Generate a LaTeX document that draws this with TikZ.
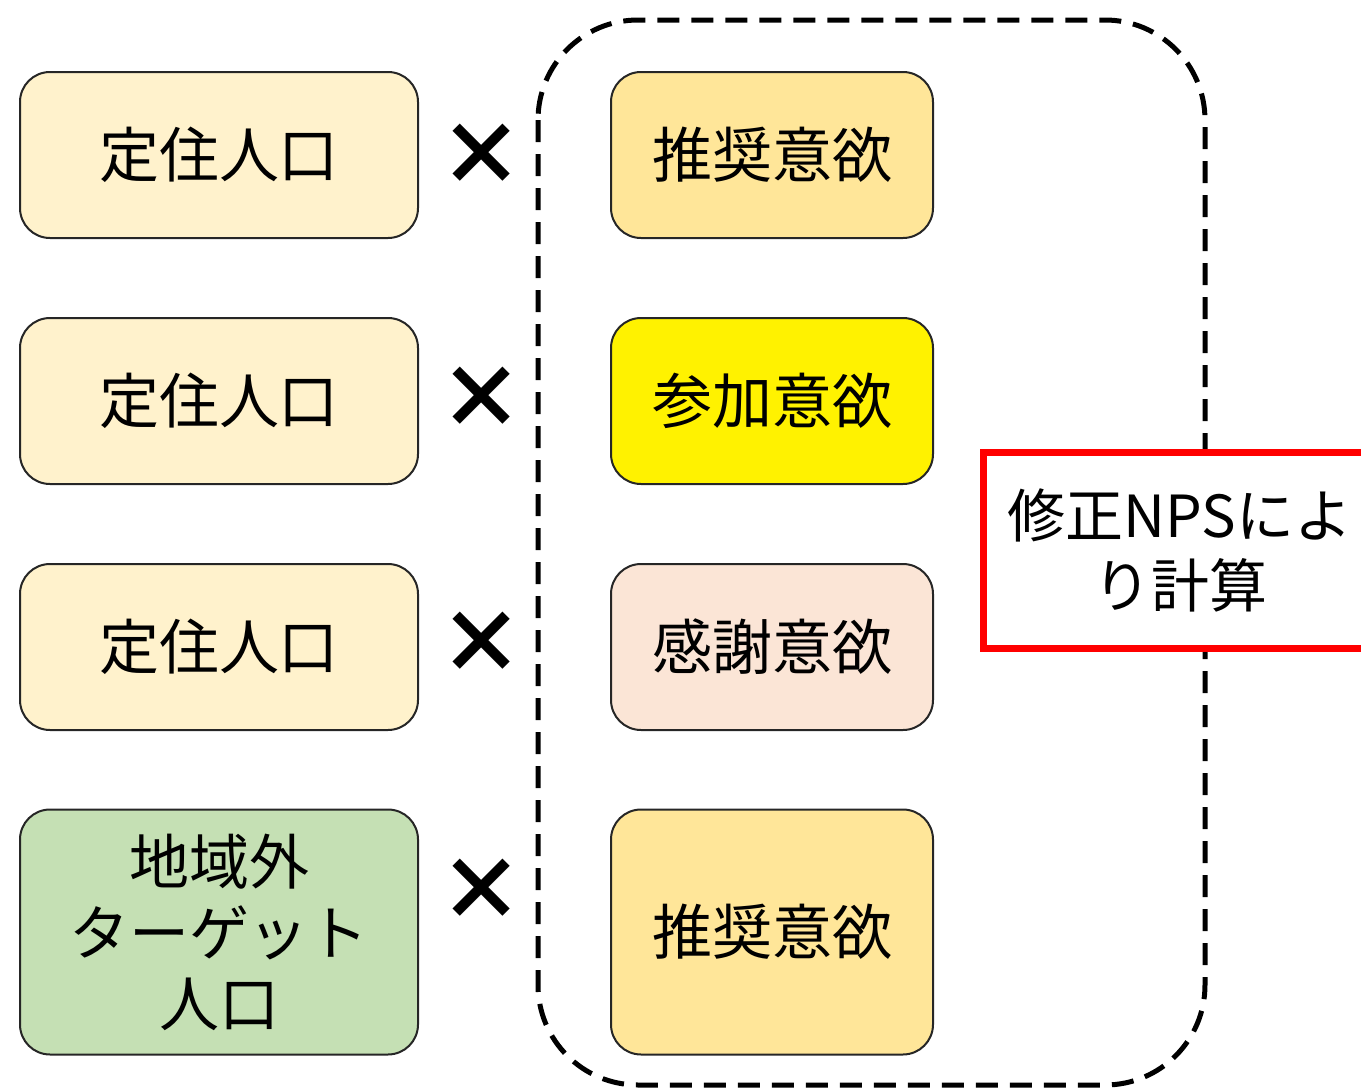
\documentclass[tikz,border=0pt]{standalone}
\usepackage{fontspec}
\setmainfont{Noto Sans CJK JP}
\usepackage{xcolor}
\usetikzlibrary{calc}
\definecolor{cream}{HTML}{FFF2CC}
\definecolor{gold}{HTML}{FFE699}
\definecolor{pink}{HTML}{FBE5D6}
\definecolor{green}{HTML}{C5E0B4}
\begin{document}
\begin{tikzpicture}[x=1pt,y=-1pt]
            \tikzstyle{every node}=[font=\fontsize{60}{71}\selectfont]
            \tikzstyle{box}=[draw=black!85, line width=2pt, rounded corners=30pt, minimum width=398pt, minimum height=166pt, align=center, inner sep=0pt]
            \tikzstyle{want}=[box, minimum width=322pt]
            \tikzstyle{times}=[font=\fontsize{86}{86}\selectfont\bfseries, inner sep=0pt]
            \useasboundingbox (0,0) rectangle (1361,1092);
            % Population
            \node[box, fill=cream] (p1) at (219,155) {定住人口};
            \node[box, fill=cream] (p2) at (219,401) {定住人口};
            \node[box, fill=cream] (p3) at (219,647) {定住人口};
            \node[box, fill=green, minimum height=245pt] (p4) at (219,932) {地域外\\ターゲット\\人口};
            % Willingness
            \node[want, fill=gold] (w1) at (772,155) {推奨意欲};
            \node[want, fill=yellow] (w2) at (772,401) {参加意欲};
            \node[want, fill=pink] (w3) at (772,647) {感謝意欲};
            \node[want, fill=gold, minimum height=245pt] (w4) at (772,932) {推奨意欲};
            % Times
            \node[times] (x1) at (481,155) {×};
            \node[times] (x2) at (481,398) {×};
            \node[times] (x3) at (481,643) {×};
            \node[times] (x4) at (481,890) {×};
            % Group
            \draw[line width=5pt, dash pattern=on 22pt off 12pt, rounded corners=100pt] (538,20) rectangle (1205,1085);
            \node[draw=red, line width=7pt, fill=white, minimum width=394pt, minimum height=196pt, align=center, inner sep=0pt, font=\fontsize{58}{70}\selectfont] (n) at (1180,550) {修正NPSによ\\り計算};
        \end{tikzpicture}
\end{document}
